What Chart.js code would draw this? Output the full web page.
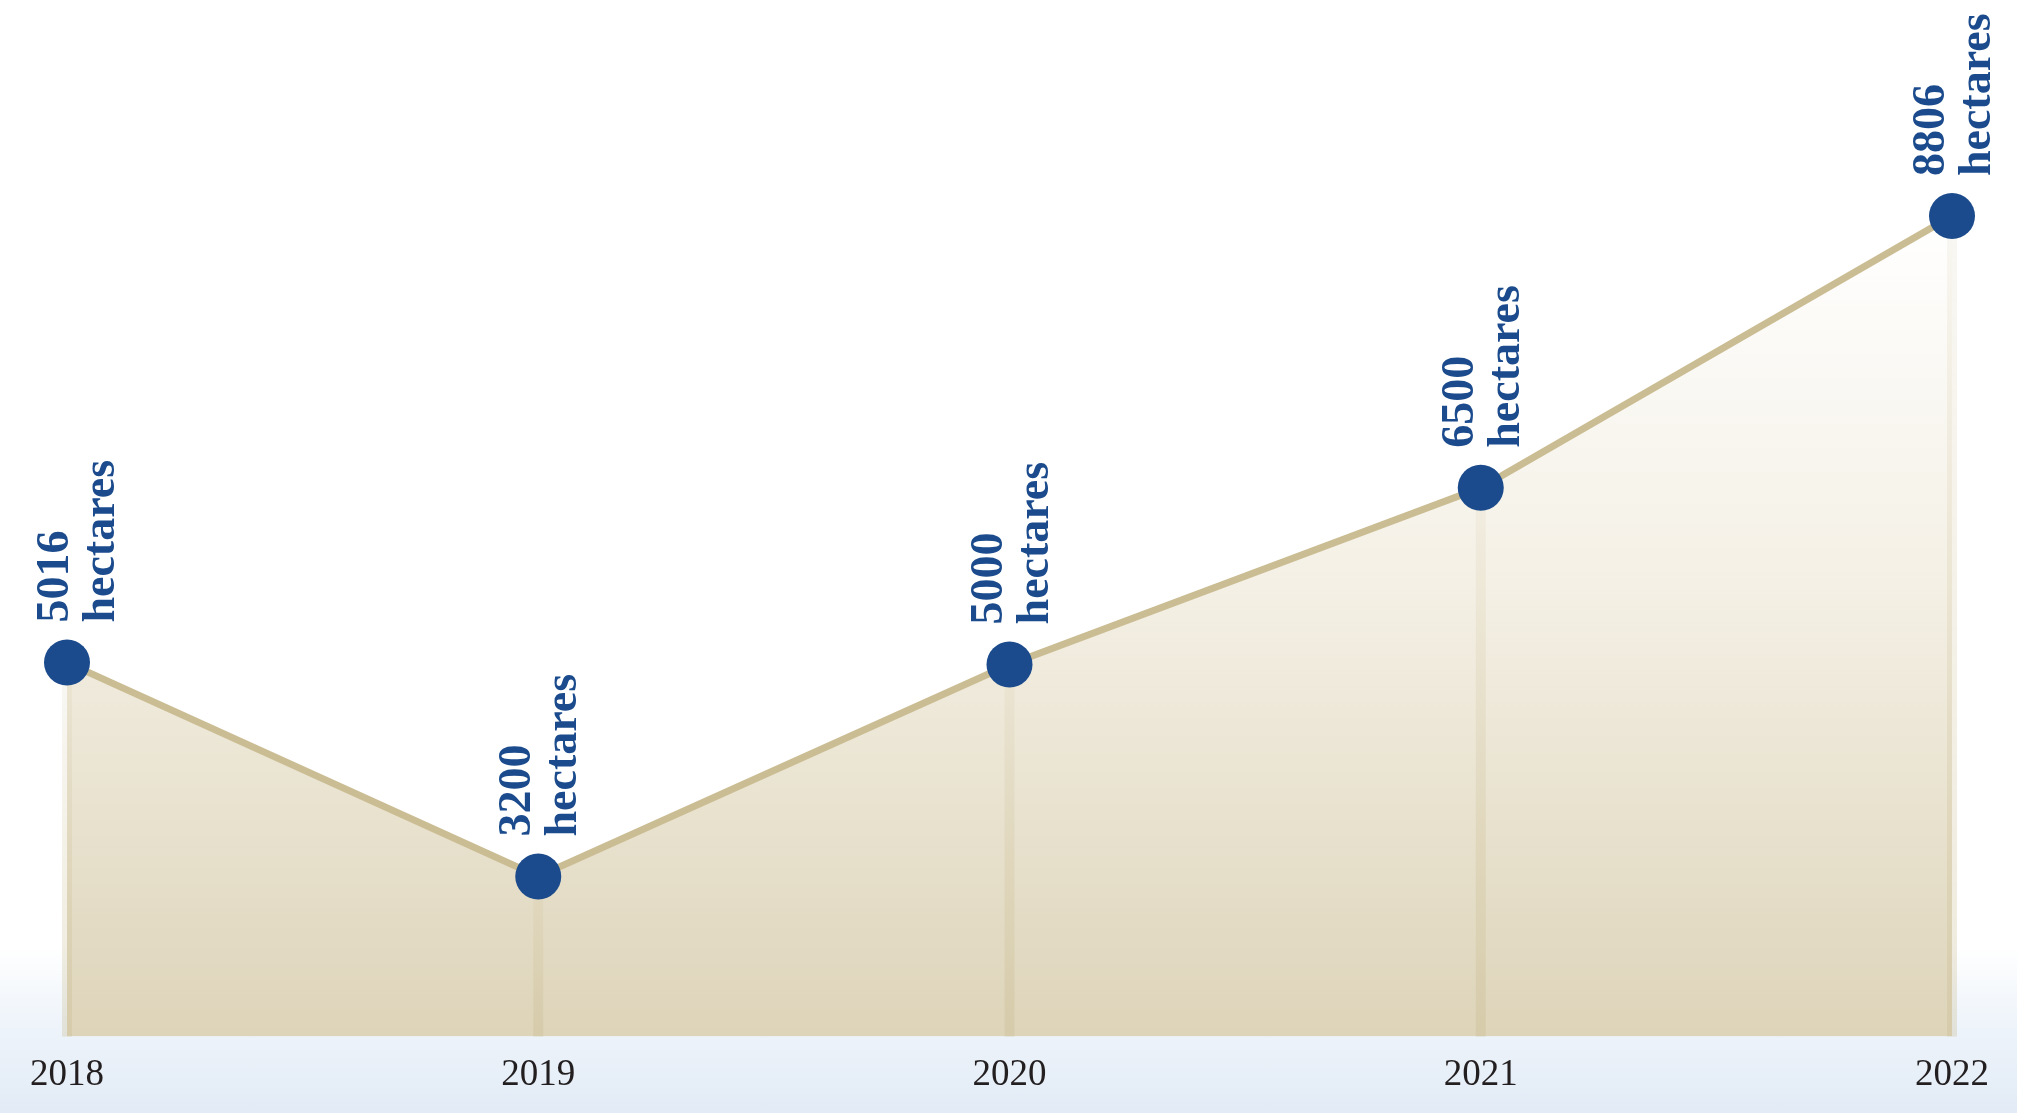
<!DOCTYPE html>
<html>
<head>
<meta charset="utf-8">
<title>Hectares per year</title>
<script src="https://cdn.jsdelivr.net/npm/chart.js@4"></script>
<style>
  html, body {
    margin: 0;
    padding: 0;
    overflow: hidden;
  }
  body {
    width: 2017px;
    height: 1113px;
    background: linear-gradient(to bottom, #ffffff 0%, #ffffff 85%, #eef4fa 92%, #e2ebf6 100%);
  }
  #wrap {
    position: relative;
    width: 2017px;
    height: 1113px;
  }
</style>
</head>
<body>
<div id="wrap"><canvas id="area-chart"></canvas></div>
<script>
// Data
const years = ['2018', '2019', '2020', '2021', '2022'];
const hectares = [5016, 3200, 5000, 6500, 8806];
const unitLabel = 'hectares';

const BLUE = '#1b4b8c';
const LINE = '#cbbd93';

// light column under each point, drawn over the fill but under the line
const columnsPlugin = {
    id: 'columns',
    beforeDatasetDraw(chart) {
        const meta = chart.getDatasetMeta(0);
        const bottom = chart.chartArea.bottom;
        const ctx = chart.ctx;
        ctx.save();
        meta.data.forEach(pt => {
            const g = ctx.createLinearGradient(0, pt.y, 0, bottom);
            g.addColorStop(0, 'rgba(196, 180, 132, 0.10)');
            g.addColorStop(1, 'rgba(196, 180, 132, 0.28)');
            ctx.fillStyle = g;
            ctx.fillRect(pt.x - 5, pt.y, 10, bottom - pt.y);
        });
        ctx.restore();
    }
};

// rotated "value / hectares" labels above each point
const valueLabels = {
    id: 'valueLabels',
    afterDatasetsDraw(chart) {
        const meta = chart.getDatasetMeta(0);
        const ctx = chart.ctx;
        ctx.save();
        ctx.fillStyle = BLUE;
        ctx.font = 'bold 46px "Liberation Serif", "DejaVu Serif", serif';
        ctx.textAlign = 'left';
        ctx.textBaseline = 'alphabetic';
        meta.data.forEach((pt, i) => {
            // keep the first label inside the left edge
            const shift = Math.max(0, 68 - (pt.x - 8));
            ctx.save();
            ctx.translate(pt.x, pt.y - 40);
            ctx.rotate(-Math.PI / 2);
            ctx.fillText(String(hectares[i]), 0, -8 + shift);
            ctx.fillText(unitLabel, 0, 38 + shift);
            ctx.restore();
        });
        ctx.restore();
    }
};

const ctx = document.getElementById('area-chart');
new Chart(ctx, {
    type: 'line',
    data: {
        labels: years,
        datasets: [{
            data: hectares,
            borderColor: LINE,
            borderWidth: 7,
            tension: 0,
            fill: 'start',
            backgroundColor(context) {
                const area = context.chart.chartArea;
                if (!area) return '#ece5d2';
                const g = context.chart.ctx.createLinearGradient(0, area.top + 190, 0, area.bottom);
                g.addColorStop(0, '#ffffff');
                g.addColorStop(0.45, '#f4f0e5');
                g.addColorStop(1, '#ddd4b9');
                return g;
            },
            pointRadius: 23,
            pointHoverRadius: 23,
            pointBackgroundColor: BLUE,
            pointBorderWidth: 0,
            clip: false
        }]
    },
    options: {
        responsive: true,
        maintainAspectRatio: false,
        animation: false,
        layout: {
            padding: { left: 67, right: 65, top: 0, bottom: 0 }
        },
        scales: {
            x: {
                offset: false,
                grid: { display: false, drawTicks: false },
                border: { display: false },
                ticks: {
                    color: '#231f20',
                    padding: 16,
                    maxRotation: 0,
                    font: { family: '"Liberation Serif", serif', size: 37 }
                }
            },
            y: {
                display: false,
                min: 1841,
                max: 10445
            }
        },
        plugins: {
            legend: { display: false },
            tooltip: { enabled: false }
        }
    },
    plugins: [columnsPlugin, valueLabels]
});
</script>
</body>
</html>
